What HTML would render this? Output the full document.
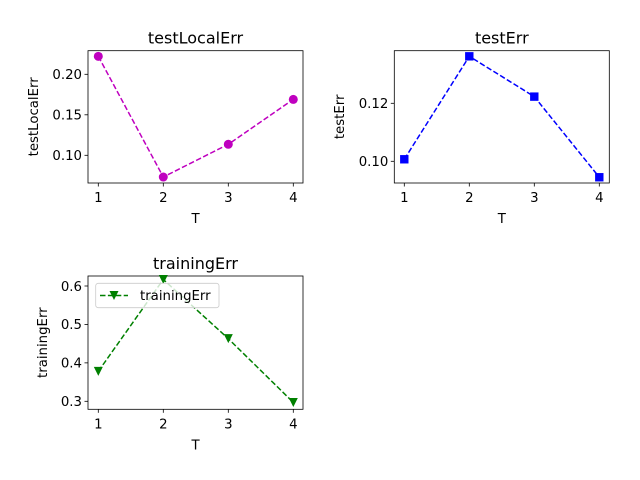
<!DOCTYPE html>
<html><head><meta charset="utf-8"><style>
html,body{margin:0;padding:0;background:#fff;}
svg{display:block;font-family:"DejaVu Sans","Liberation Sans",sans-serif;}
</style></head><body>
<svg id="fig" width="640" height="480" viewBox="0 0 640 480" xmlns="http://www.w3.org/2000/svg">
<rect width="640" height="480" fill="#fff"/>
</svg>
<script>
const categories = [1, 2, 3, 4];
const testLocalErr = [0.2222, 0.0732, 0.1136, 0.169];
const testErr = [0.1007, 0.1362, 0.1223, 0.0945];
const trainingErr = [0.378, 0.617, 0.463, 0.297];
const ticksLocal = ["0.10", "0.15", "0.20"];
const ticksTest = ["0.10", "0.12"];
const ticksTrain = ["0.3", "0.4", "0.5", "0.6"];

const NS = "http://www.w3.org/2000/svg";
const svg = document.getElementById('fig');
function mk(tag, attrs, parent, text) {
  const e = document.createElementNS(NS, tag);
  for (const k in attrs) e.setAttribute(k, attrs[k]);
  if (text !== undefined) e.textContent = text;
  (parent || svg).appendChild(e);
  return e;
}

// panel: box in px, x domain via 2 ref ticks, y domain via 2 ref values/pixels
function panel(cfg) {
  const g = mk('g', {});
  
  
  const X = v => cfg.x1px + (v - 1) * (cfg.x4px - cfg.x1px) / 3;
  const Y = v => cfg.ya_px + (v - cfg.ya) * (cfg.yb_px - cfg.ya_px) / (cfg.yb - cfg.ya);
  // frame
  const fr = mk('rect', {x: cfg.L, y: cfg.T, width: cfg.R - cfg.L, height: cfg.B - cfg.T, fill: 'none', stroke: '#000', 'stroke-width': 0.8}, g);
  
  
  // title
  const t = mk('text', {x: (cfg.L + cfg.R) / 2, y: cfg.T - 7, 'text-anchor': 'middle', 'font-size': 16}, g, cfg.name);
  
  
  // x ticks
  categories.forEach(c => {
    const x = X(c);
    mk('line', {x1: x, x2: x, y1: cfg.B, y2: cfg.B + 3.5, stroke: '#000', 'stroke-width': 0.8}, g);
    const tl = mk('text', {x: x, y: cfg.B + 19, 'text-anchor': 'middle', 'font-size': 13.3}, g, String(c));
    
    
  });
  const xl = mk('text', {x: (cfg.L + cfg.R) / 2, y: cfg.B + 40, 'text-anchor': 'middle', 'font-size': 13.3}, g, 'T');
  
  
  // y ticks
  cfg.ticks.forEach(s => {
    const y = Y(parseFloat(s));
    mk('line', {x1: cfg.L - 3.5, x2: cfg.L, y1: y, y2: y, stroke: '#000', 'stroke-width': 0.8}, g);
    const tl = mk('text', {x: cfg.L - 6, y: y + 4.8, 'text-anchor': 'end', 'font-size': 13.3}, g, s);
    
    
  });
  const yl = mk('text', {x: 0, y: 0, 'text-anchor': 'middle', 'font-size': 13.3, transform: `translate(${cfg.ylx},${(cfg.T + cfg.B) / 2}) rotate(-90)`}, g, cfg.name);
  
  
  // line
  const pts = categories.map((c, i) => X(c) + ',' + Y(cfg.data[i])).join(' ');
  const pl = mk('polyline', {points: pts, fill: 'none', stroke: cfg.color, 'stroke-width': 1.5, 'stroke-dasharray': '5.5,2.4'}, g);
  
  
  categories.forEach((c, i) => {
    const x = X(c), y = Y(cfg.data[i]);
    let m;
    if (cfg.marker === 'o') m = mk('circle', {cx: x, cy: y, r: 4.5, fill: cfg.color}, g);
    else if (cfg.marker === 's') m = mk('rect', {x: x - 4.2, y: y - 4.2, width: 8.4, height: 8.4, fill: cfg.color}, g);
    else m = mk('polygon', {points: `${x - 4.5},${y - 4.5} ${x + 4.5},${y - 4.5} ${x},${y + 4.5}`, fill: cfg.color}, g);
    
    
  });
  return g;
}

panel({name: 'testLocalErr', data: testLocalErr, ticks: ticksLocal, color: '#bf00bf', marker: 'o',
  L: 88, R: 303, T: 50.7, B: 183, x1px: 98.3, x4px: 293.3, ya: 0.10, ya_px: 155.3, yb: 0.20, yb_px: 74.3, ylx: 38});
panel({name: 'testErr', data: testErr, ticks: ticksTest, color: '#0000ff', marker: 's',
  L: 394.3, R: 609.3, T: 50.7, B: 183, x1px: 404.3, x4px: 599.3, ya: 0.10, ya_px: 161.3, yb: 0.12, yb_px: 103.3, ylx: 344});
const g3 = panel({name: 'trainingErr', data: trainingErr, ticks: ticksTrain, color: '#008000', marker: 'v',
  L: 88, R: 303, T: 276, B: 409.3, x1px: 98.3, x4px: 293.3, ya: 0.3, ya_px: 401.3, yb: 0.6, yb_px: 286, ylx: 47});

// legend
const lg = mk('g', {});


mk('rect', {x: 95.7, y: 283.3, width: 123.3, height: 24.4, rx: 2.5, fill: 'rgba(255,255,255,0.8)', stroke: '#cccccc', 'stroke-width': 0.8}, lg);
mk('line', {x1: 100, x2: 128, y1: 295.5, y2: 295.5, stroke: '#008000', 'stroke-width': 1.5, 'stroke-dasharray': '5.5,2.4'}, lg);
mk('polygon', {points: '109.5,291 118.5,291 114,300', fill: '#008000'}, lg);
const lt = mk('text', {x: 140, y: 300, 'font-size': 13.3}, lg, 'trainingErr');


</script>
</body></html>
